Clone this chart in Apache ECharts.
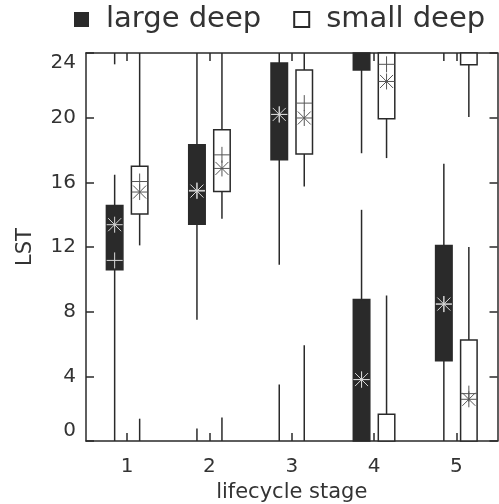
<!DOCTYPE html>
<html>
<head>
<meta charset="utf-8">
<script src="https://cdn.jsdelivr.net/npm/echarts@6/dist/echarts.min.js"></script>
<style>
  html, body { margin: 0; padding: 0; background: #fff; }
  #chart { width: 499px; height: 504px; }
</style>
</head>
<body>
<div id="chart"></div>
<script>
  // LST is circular (0-24h), so whiskers and boxes may wrap over the top
  var stages = ['1', '2', '3', '4', '5'];

  var largeLo   = [23.3, 7.5, 10.9, 17.8, 23.5];
  var largeQ1   = [10.6, 13.4, 17.4, 22.95, 4.97];
  var largeQ3   = [14.56, 18.33, 23.38, 8.76, 12.1];
  var largeHi   = [16.47, 0.77, 3.49, 14.3, 17.15];
  var largeMean = [13.38, 15.46, 20.2, 3.8, 8.47];
  var largePlus = [11.17, 15.5, 20.2, 3.8, 8.47];

  var smallLo   = [12.1, 13.75, 15.75, 17.5, 20.04];
  var smallQ1   = [14.04, 15.44, 17.75, 19.94, 23.28];
  var smallQ3   = [17.0, 19.26, 22.95, 1.65, 6.25];
  var smallHi   = [1.38, 1.45, 5.92, 9.0, 12.0];
  var smallMean = [15.4, 16.86, 19.98, 22.24, 2.58];
  var smallPlus = [16.05, 17.7, 20.9, 23.3, 2.93];

  var ink = '#2a2a2a';
  var txt = '#333';

  function build(lo, q1, q3, hi, mean, plus) {
    return stages.map(function (s, i) {
      return [i, lo[i], q1[i], q3[i], hi[i], mean[i], plus[i]];
    });
  }

  function arcs(a, b) {
    return a <= b ? [[a, b]] : [[a, 24], [0, b]];
  }

  function makeRender(offset, fill, markColor) {
    return function (params, api) {
      var i = api.value(0);
      var cx = api.coord([i, 0])[0] + offset;
      var yOf = function (v) { return api.coord([i, v])[1]; };
      var w = 16.5;
      var kids = [];
      var segs = arcs(api.value(1), api.value(2)).concat(arcs(api.value(3), api.value(4)));
      segs.forEach(function (s) {
        kids.push({ type: 'line', shape: { x1: cx, y1: yOf(s[0]), x2: cx, y2: yOf(s[1]) },
          style: { stroke: ink, lineWidth: 1.5 } });
      });
      arcs(api.value(2), api.value(3)).forEach(function (s) {
        var top = yOf(s[1]), bot = yOf(s[0]);
        kids.push({ type: 'rect', shape: { x: cx - w / 2, y: top, width: w, height: bot - top },
          style: { fill: fill, stroke: ink, lineWidth: 1.5 } });
      });
      // asterisk (mean)
      var my = yOf(api.value(5)), r = 8, d = 6.5;
      [[-r, 0, r, 0], [0, -r, 0, r], [-d, -d, d, d], [-d, d, d, -d]].forEach(function (l) {
        kids.push({ type: 'line', shape: { x1: cx + l[0], y1: my + l[1], x2: cx + l[2], y2: my + l[3] },
          style: { stroke: markColor, lineWidth: 1 } });
      });
      // plus
      var py = yOf(api.value(6));
      [[-r, 0, r, 0], [0, -r, 0, r]].forEach(function (l) {
        kids.push({ type: 'line', shape: { x1: cx + l[0], y1: py + l[1], x2: cx + l[2], y2: py + l[3] },
          style: { stroke: markColor, lineWidth: 1 } });
      });
      return { type: 'group', children: kids };
    };
  }

  var chart = echarts.init(document.getElementById('chart'));

  var tickStyle = { show: true, inside: true, length: 8, lineStyle: { color: ink, width: 1.5 } };
  var lineStyle = { show: true, onZero: false, lineStyle: { color: ink, width: 1.5 } };

  var option = {
    backgroundColor: '#fff',
    animation: false,
    legend: {
      left: 69,
      top: 0,
      itemWidth: 15,
      itemHeight: 15,
      itemGap: 32,
      textStyle: { fontFamily: 'DejaVu Sans', fontSize: 29, color: txt, padding: [0, 0, 0, 12] },
      data: [
        { name: 'large deep', icon: 'rect', itemStyle: { color: ink, borderWidth: 0 } },
        { name: 'small deep', icon: 'rect', itemStyle: { color: '#fff', borderColor: ink, borderWidth: 2 } }
      ]
    },
    grid: { left: 86, right: 1.5, top: 53, bottom: 63, outerBoundsMode: 'none', containLabel: false },
    xAxis: [
      {
        type: 'category',
        data: stages,
        boundaryGap: true,
        name: 'lifecycle stage',
        nameLocation: 'middle',
        nameGap: 39,
        nameTextStyle: { fontFamily: 'DejaVu Sans', fontSize: 21, color: txt },
        axisLine: lineStyle,
        axisTick: Object.assign({ alignWithLabel: true }, tickStyle),
        axisLabel: { fontFamily: 'DejaVu Sans', fontSize: 20, color: txt, margin: 16 },
        splitLine: { show: false }
      },
      {
        type: 'category',
        data: stages,
        position: 'top',
        boundaryGap: true,
        axisLine: lineStyle,
        axisTick: Object.assign({ alignWithLabel: true }, tickStyle),
        axisLabel: { show: false },
        splitLine: { show: false }
      }
    ],
    yAxis: [
      {
        type: 'value',
        min: 0,
        max: 24,
        interval: 4,
        name: 'LST',
        nameLocation: 'middle',
        nameGap: 50,
        nameTextStyle: { fontFamily: 'DejaVu Sans', fontSize: 21, color: txt },
        axisLine: lineStyle,
        axisTick: tickStyle,
        axisLabel: { fontFamily: 'DejaVu Sans', fontSize: 20, color: txt, margin: 10,
          verticalAlignMaxLabel: 'top', verticalAlignMinLabel: 'bottom' },
        splitLine: { show: false }
      },
      {
        type: 'value',
        min: 0,
        max: 24,
        interval: 4,
        position: 'right',
        axisLine: lineStyle,
        axisTick: tickStyle,
        axisLabel: { show: false },
        splitLine: { show: false }
      }
    ],
    series: [
      {
        name: 'large deep',
        type: 'custom',
        itemStyle: { color: ink },
        renderItem: makeRender(-12.5, ink, '#d8d8d8'),
        data: build(largeLo, largeQ1, largeQ3, largeHi, largeMean, largePlus)
      },
      {
        name: 'small deep',
        type: 'custom',
        itemStyle: { color: '#fff', borderColor: ink },
        renderItem: makeRender(12.5, '#fff', '#555'),
        data: build(smallLo, smallQ1, smallQ3, smallHi, smallMean, smallPlus)
      }
    ]
  };

  chart.setOption(option);
</script>
</body>
</html>
